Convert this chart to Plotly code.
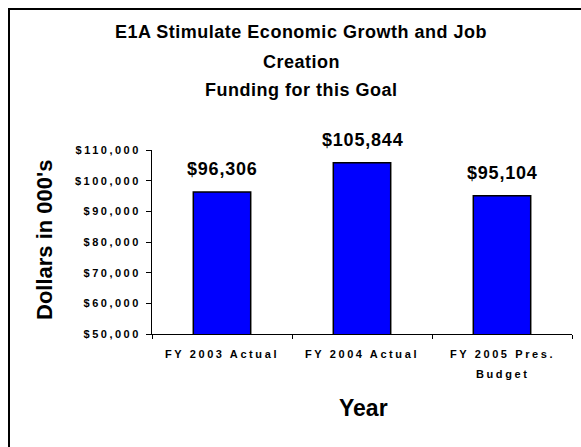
import plotly.graph_objects as go

# Funding data (dollars in thousands)
years = ["FY 2003 Actual", "FY 2004 Actual", "FY 2005 Pres. Budget"]
year_labels = ["FY 2003 Actual", "FY 2004 Actual", "FY 2005 Pres.<br>Budget"]
funding = [96306, 105844, 95104]
y_ticks = [50000, 60000, 70000, 80000, 90000, 100000, 110000]
title_lines = ["E1A Stimulate Economic Growth and Job", "Creation", "Funding for this Goal"]

W, H = 581, 447
L, R, T, B = 152, 9, 150, 113
PW, PH = W - L - R, H - T - B
FONT = "Liberation Sans, Arial, sans-serif"


def px_x(x):
    return (x - L) / PW


def px_y(y):
    return (H - B - y) / PH


def spaced(text, sp):
    return f"<span style='letter-spacing:{sp}px'>{text}</span>"


fig = go.Figure()
fig.add_trace(go.Bar(
    x=years,
    y=funding,
    width=0.41,
    marker=dict(color="#0000FF", line=dict(color="black", width=1.5)),
    showlegend=False,
    hoverinfo="skip",
))

annotations = []
# value labels above bars
for cat, v in zip(years, funding):
    annotations.append(dict(
        x=cat, y=v, xref="x", yref="y",
        text=spaced(f"${v:,}", 0.8),
        showarrow=False, yanchor="middle", yshift=23,
        font=dict(family=FONT, size=18, color="black", weight="bold"),
    ))

# category labels under the axis, one annotation per line
for cat, lab in zip(years, year_labels):
    for i, part in enumerate(lab.split("<br>")):
        annotations.append(dict(
            x=cat, y=px_y(354 + 20 * i), xref="x", yref="paper",
            text=spaced(part, 2.6), showarrow=False,
            xanchor="center", yanchor="middle",
            font=dict(family=FONT, size=11, color="black", weight="bold"),
        ))

# chart title, one annotation per line
for line, yc in zip(title_lines, [32, 62, 90]):
    annotations.append(dict(
        x=px_x(301), y=px_y(yc), xref="paper", yref="paper",
        text=spaced(line, 0.5), showarrow=False,
        xanchor="center", yanchor="middle",
        font=dict(family=FONT, size=18, color="black", weight="bold"),
    ))

# axis titles
annotations.append(dict(
    x=px_x(363), y=px_y(408), xref="paper", yref="paper",
    text="Year", showarrow=False, xanchor="center", yanchor="middle",
    font=dict(family=FONT, size=23, color="black", weight="bold"),
))
annotations.append(dict(
    x=px_x(44), y=px_y(240), xref="paper", yref="paper",
    text="Dollars in 000's", showarrow=False, textangle=-90,
    xanchor="center", yanchor="middle",
    font=dict(family=FONT, size=22, color="black", weight="bold"),
))

fig.update_layout(
    width=W, height=H, autosize=False,
    margin=dict(l=L, r=R, t=T, b=B, pad=0),
    paper_bgcolor="white", plot_bgcolor="white",
    font=dict(family=FONT, color="black"),
    annotations=annotations,
    shapes=[dict(
        type="rect", xref="paper", yref="paper",
        x0=px_x(9), x1=px_x(640), y0=px_y(9), y1=px_y(520),
        line=dict(color="black", width=2), fillcolor="rgba(0,0,0,0)",
        layer="below",
    )],
)

fig.update_xaxes(
    type="category", categoryorder="array", categoryarray=years,
    range=[-0.5, 2.5], showticklabels=False,
    showline=True, linecolor="black", linewidth=1,
    ticks="outside", tickson="boundaries", ticklen=4, tickcolor="black",
    showgrid=False, zeroline=False,
)
fig.update_yaxes(
    range=[50000, 110000],
    tickvals=y_ticks, ticktext=[spaced(f"${v:,}", 2.5) for v in y_ticks],
    showline=True, linecolor="black", linewidth=1,
    ticks="outside", ticklen=5, tickcolor="black", ticklabelstandoff=3,
    showgrid=False, zeroline=False,
    tickfont=dict(family=FONT, size=11, color="black", weight="bold"),
)

fig.write_html("out.html")
